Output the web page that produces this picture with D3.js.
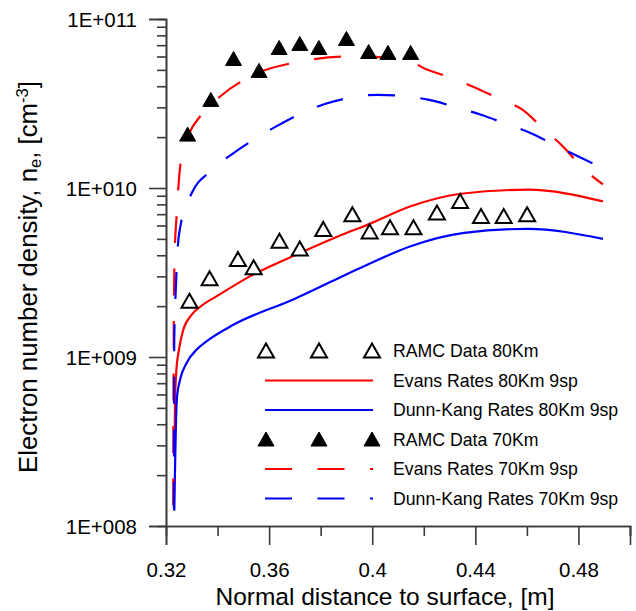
<!DOCTYPE html>
<html>
<head>
<meta charset="utf-8">
<script src="https://cdn.jsdelivr.net/npm/d3@7"></script>
<style>
  html, body { margin: 0; padding: 0; background: #fff; }
  svg { display: block; font-family: "Liberation Sans", Arial, sans-serif; }
</style>
</head>
<body>
<svg id="chart" width="636" height="611"></svg>
<script>
// ---------------- data ----------------
const xTickValues = [0.32, 0.36, 0.40, 0.44, 0.48];
const xTickLabels = ["0.32", "0.36", "0.4", "0.44", "0.48"];
const xMinorTicks = [0.34, 0.38, 0.42, 0.46, 0.50];
const yTickValues = [1e8, 1e9, 1e10, 1e11];
const yTickLabels = ["1E+008", "1E+009", "1E+010", "1E+011"];

// RAMC Data 80Km (open triangles): [distance m, ne cm^-3]
const ramc80 = [
  [0.3291, 2.14e9], [0.3369, 2.90e9], [0.3479, 3.77e9], [0.3540, 3.37e9],
  [0.3640, 4.84e9], [0.3719, 4.36e9], [0.3810, 5.69e9], [0.3923, 6.95e9],
  [0.3990, 5.50e9], [0.4069, 5.81e9], [0.4160, 5.81e9], [0.4251, 7.12e9],
  [0.4341, 8.33e9], [0.4422, 6.79e9], [0.4510, 6.79e9], [0.4601, 6.95e9]
];
// RAMC Data 70Km (filled triangles)
const ramc70 = [
  [0.3284, 2.07e10], [0.3374, 3.32e10], [0.3462, 5.80e10], [0.3561, 4.93e10],
  [0.3639, 6.74e10], [0.3719, 7.12e10], [0.3793, 6.74e10], [0.3900, 7.62e10],
  [0.3986, 6.38e10], [0.4061, 6.30e10], [0.4149, 6.30e10]
];
// Evans Rates 80Km 9sp (red solid)
const evans80 = [
  [0.3233, 2.85e8], [0.3235, 5.6e8], [0.3240, 8.2e8], [0.3250, 1.10e9],
  [0.3267, 1.45e9], [0.3300, 1.78e9], [0.3340, 2.02e9], [0.3397, 2.29e9],
  [0.3527, 3.01e9], [0.3721, 4.13e9], [0.3916, 5.54e9], [0.3981, 6.05e9],
  [0.4149, 7.79e9], [0.4344, 9.25e9], [0.4604, 9.77e9], [0.4895, 8.33e9]
];
// Dunn-Kang Rates 80Km 9sp (blue solid)
const dunn80 = [
  [0.3232, 1.23e8], [0.3235, 2.17e8], [0.3239, 4.28e8], [0.3243, 5.87e8],
  [0.3255, 7.38e8], [0.3281, 9.29e8], [0.3320, 1.11e9], [0.3358, 1.24e9],
  [0.3461, 1.55e9], [0.3694, 2.19e9], [0.3981, 3.52e9], [0.4149, 4.52e9],
  [0.4357, 5.42e9], [0.4604, 5.73e9], [0.4895, 5.00e9]
];
// Evans Rates 70Km 9sp (red dashed)
const evans70 = [
  [0.3228, 1.32e8], [0.3229, 5.6e8], [0.32298, 1.11e9], [0.3233, 3.77e9],
  [0.3242, 7.15e9], [0.3255, 1.34e10], [0.3281, 1.93e10], [0.3332, 2.65e10],
  [0.3410, 3.48e10], [0.3540, 4.67e10], [0.3721, 5.60e10], [0.3890, 5.99e10],
  [0.3981, 5.99e10], [0.4149, 5.60e10], [0.4201, 5.12e10], [0.4298, 4.53e10],
  [0.4396, 3.95e10], [0.4487, 3.40e10], [0.4584, 2.90e10], [0.4662, 2.26e10],
  [0.4740, 1.76e10], [0.4811, 1.34e10], [0.4895, 1.05e10]
];
// Dunn-Kang Rates 70Km 9sp (blue dashed)
const dunn70 = [
  [0.3231, 1.26e8], [0.32313, 5.6e8], [0.3232, 1.27e9], [0.3238, 2.51e9],
  [0.3245, 4.32e9], [0.3257, 6.07e9], [0.3300, 9.34e9], [0.3371, 1.25e10],
  [0.3462, 1.61e10], [0.3540, 1.93e10], [0.3631, 2.33e10], [0.3721, 2.75e10],
  [0.3819, 3.15e10], [0.3916, 3.43e10], [0.4020, 3.56e10], [0.4117, 3.51e10],
  [0.4221, 3.32e10], [0.4318, 3.03e10], [0.4422, 2.71e10], [0.4512, 2.42e10],
  [0.4616, 2.11e10], [0.4707, 1.80e10], [0.4798, 1.54e10], [0.4895, 1.31e10]
];
const legendLabels = [
  "RAMC Data 80Km", "Evans Rates 80Km 9sp", "Dunn-Kang Rates 80Km 9sp",
  "RAMC Data 70Km", "Evans Rates 70Km 9sp", "Dunn-Kang Rates 70Km 9sp"
];

// ---------------- layout ----------------
const svg = d3.select("#chart");
const pLeft = 166, pRight = 630, pTop = 19, pBottom = 526;
const x = d3.scaleLinear().domain([0.32, 0.50]).range([pLeft, pRight]);
const y = d3.scaleLog().domain([1e8, 1e11]).range([pBottom, pTop]);
const RED = "#ff0000", BLUE = "#0000ff", AX = "#3a3a3a";
const DASH = "27,25.5";

// minor y ticks
const yMinor = [];
for (let e = 8; e < 11; e++) for (let k = 2; k <= 9; k++) yMinor.push(k * Math.pow(10, e));

// axes
const xAxisMinor = d3.axisBottom(x).tickValues(xMinorTicks).tickSize(10).tickFormat("");
const xAxis = d3.axisBottom(x).tickValues(xTickValues).tickSize(19)
  .tickFormat((d, i) => xTickLabels[i]);
const yAxisMinor = d3.axisLeft(y).tickValues(yMinor).tickSize(9).tickFormat("");
const yAxis = d3.axisLeft(y).tickValues(yTickValues).tickSize(17)
  .tickFormat((d, i) => yTickLabels[i]);

function styleAxis(g) {
  g.select(".domain").attr("stroke", AX).attr("stroke-width", 1.6);
  g.selectAll(".tick line").attr("stroke", AX).attr("stroke-width", 1.6);
  g.selectAll(".tick text").attr("fill", "#000")
    .style("font-family", '"Liberation Sans", Arial, sans-serif')
    .style("font-size", "20.5px");
}

svg.append("g").attr("transform", `translate(0,${pBottom})`).call(xAxisMinor).call(styleAxis);
const gx = svg.append("g").attr("transform", `translate(0,${pBottom})`).call(xAxis).call(styleAxis);
gx.selectAll(".tick text").attr("y", 51).attr("dy", 0);
svg.append("g").attr("transform", `translate(${pLeft},0)`).call(yAxisMinor).call(styleAxis);
const gy = svg.append("g").attr("transform", `translate(${pLeft},0)`).call(yAxis).call(styleAxis);
gy.selectAll(".tick text").attr("x", -29).attr("dy", "0.36em");

// axis titles
svg.append("text")
  .attr("x", 385).attr("y", 605)
  .attr("text-anchor", "middle")
  .style("font-size", "24.5px")
  .text("Normal distance to surface, [m]");

const yt = svg.append("text")
  .attr("transform", "translate(37,277) rotate(-90)")
  .attr("text-anchor", "middle")
  .style("font-size", "25.8px");
yt.append("tspan").text("Electron number density, n");
yt.append("tspan").attr("baseline-shift", "-25%").style("font-size", "16.5px").text("e");
yt.append("tspan").text(", [cm");
yt.append("tspan").attr("baseline-shift", "super").style("font-size", "16.5px").text("-3");
yt.append("tspan").text("]");

// curves
const line = d3.line()
  .x(d => x(d[0])).y(d => y(d[1]))
  .curve(d3.curveMonotoneX);

const curves = [
  { data: evans80, color: RED, dash: null },
  { data: dunn80, color: BLUE, dash: null },
  { data: evans70, color: RED, dash: DASH },
  { data: dunn70, color: BLUE, dash: DASH }
];
curves.forEach(c => {
  svg.append("path").datum(c.data)
    .attr("d", line)
    .attr("fill", "none")
    .attr("stroke", c.color)
    .attr("stroke-width", 2.2)
    .attr("stroke-dasharray", c.dash);
});

// triangle markers
const tri = "M0,-7.5L8,6.5L-8,6.5Z";
svg.append("g").selectAll("path").data(ramc80).join("path")
  .attr("d", tri)
  .attr("transform", d => `translate(${x(d[0])},${y(d[1])})`)
  .attr("fill", "#fff").attr("stroke", "#000").attr("stroke-width", 2);
svg.append("g").selectAll("path").data(ramc70).join("path")
  .attr("d", tri)
  .attr("transform", d => `translate(${x(d[0])},${y(d[1])})`)
  .attr("fill", "#000").attr("stroke", "#000").attr("stroke-width", 1);

// legend
const lgX0 = 265, lgX1 = 373, lgTextX = 393, lgY0 = 351, lgStep = 29.5;
const legendItems = [
  { type: "tri", fill: "#fff" },
  { type: "line", color: RED, dash: null },
  { type: "line", color: BLUE, dash: null },
  { type: "tri", fill: "#000" },
  { type: "line", color: RED, dash: DASH },
  { type: "line", color: BLUE, dash: DASH }
];
legendItems.forEach((it, i) => {
  const yy = lgY0 + i * lgStep;
  if (it.type === "tri") {
    [266, 319, 372].forEach(px => {
      svg.append("path").attr("d", tri)
        .attr("transform", `translate(${px},${yy})`)
        .attr("fill", it.fill).attr("stroke", "#000")
        .attr("stroke-width", it.fill === "#fff" ? 2 : 1);
    });
  } else {
    svg.append("line")
      .attr("x1", lgX0).attr("x2", lgX1).attr("y1", yy).attr("y2", yy)
      .attr("stroke", it.color).attr("stroke-width", 2.2)
      .attr("stroke-dasharray", it.dash);
  }
  svg.append("text")
    .attr("x", lgTextX).attr("y", yy).attr("dy", "0.36em")
    .style("font-size", "17.7px")
    .text(legendLabels[i]);
});
</script>
</body>
</html>
